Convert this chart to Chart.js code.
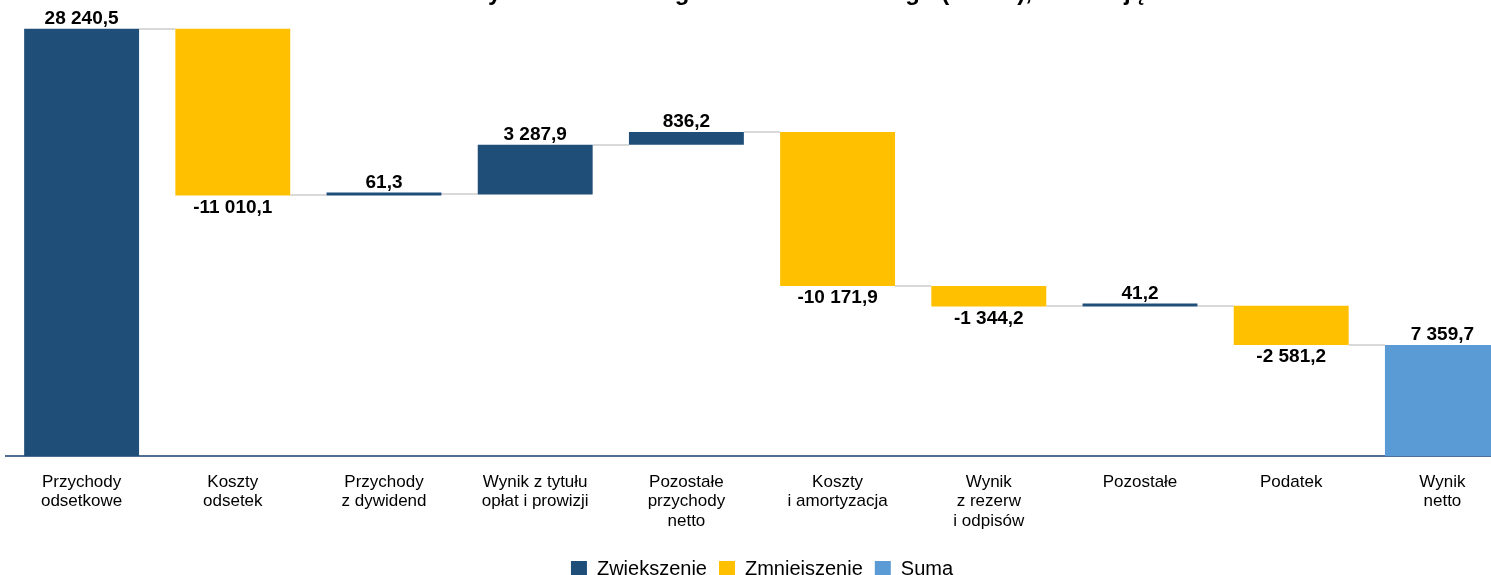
<!DOCTYPE html>
<html><head><meta charset="utf-8">
<script src="https://cdn.jsdelivr.net/npm/chart.js@4.4.0/dist/chart.umd.min.js"></script>
<style>
html,body{margin:0;padding:0;background:#fff;overflow:hidden;width:1491px;height:575px;position:relative;}
#wrap{position:absolute;left:0;top:0;width:1528px;height:590px;}
#title{position:absolute;top:-19px;left:0;width:1528px;text-align:center;font:bold 24px "Liberation Sans",Arial,sans-serif;line-height:22px;color:#000;white-space:nowrap;}
</style></head><body>
<div id="wrap"><canvas id="c" width="1528" height="590"></canvas></div>
<div id="title">Struktura wyniku finansowego sektora bankowego (mln zł), narastająco</div>
<script>
const categories = [
  ["Przychody","odsetkowe"],
  ["Koszty","odsetek"],
  ["Przychody","z dywidend"],
  ["Wynik z tytułu","opłat i prowizji"],
  ["Pozostałe","przychody","netto"],
  ["Koszty","i amortyzacja"],
  ["Wynik","z rezerw","i odpisów"],
  ["Pozostałe"],
  ["Podatek"],
  ["Wynik","netto"]
];
const values = [28240.5, -11010.1, 61.3, 3287.9, 836.2, -10171.9, -1344.2, 41.2, -2581.2, 7359.7];
const isTotal = [false, false, false, false, false, false, false, false, false, true];
const seriesNames = ["Zwiększenie", "Zmniejszenie", "Suma"];
const seriesColors = ["#1F4E79", "#FFC000", "#5B9BD5"];

// Build floating ranges
const ranges = [];
const levels = [];
let run = 0;
values.forEach((v, i) => {
  if (isTotal[i]) { ranges.push([0, v]); run = v; }
  else { ranges.push([run, run + v]); run = run + v; }
  levels.push(run);
});
const incData = ranges.map((r, i) => (!isTotal[i] && values[i] >= 0) ? r : null);
const decData = ranges.map((r, i) => (!isTotal[i] && values[i] < 0) ? r : null);
const sumData = ranges.map((r, i) => isTotal[i] ? r : null);

function fmt(v) {
  const p = Math.abs(v).toFixed(1).split('.');
  const int = p[0].replace(/\B(?=(\d{3})+(?!\d))/g, ' ');
  return (v < 0 ? '-' : '') + int + ',' + p[1];
}

const FONT = '"Liberation Sans", Arial, sans-serif';

const connectors = {
  id: 'connectors',
  beforeDatasetsDraw(chart) {
    const ctx = chart.ctx;
    const y = chart.scales.y;
    const els = [];
    chart.data.datasets.forEach((ds, di) => {
      const meta = chart.getDatasetMeta(di);
      meta.data.forEach((el, i) => { if (ds.data[i] !== null) els[i] = el; });
    });
    ctx.save();
    ctx.strokeStyle = '#D9D9D9';
    ctx.lineWidth = 2;
    for (let i = 0; i < els.length - 1; i++) {
      const a = els[i], b = els[i + 1];
      if (!a || !b) continue;
      const py = Math.round(y.getPixelForValue(levels[i]));
      ctx.beginPath();
      ctx.moveTo(a.x + a.width / 2, py);
      ctx.lineTo(b.x - b.width / 2, py);
      ctx.stroke();
    }
    ctx.restore();
  }
};

const dataLabels = {
  id: 'dataLabels',
  afterDatasetsDraw(chart) {
    const ctx = chart.ctx;
    ctx.save();
    ctx.font = 'bold 19px ' + FONT;
    ctx.fillStyle = '#000';
    ctx.textAlign = 'center';
    ctx.textBaseline = 'middle';
    chart.data.datasets.forEach((ds, di) => {
      const meta = chart.getDatasetMeta(di);
      meta.data.forEach((el, i) => {
        if (ds.data[i] === null) return;
        const top = Math.min(el.y, el.base);
        const bot = Math.max(el.y, el.base);
        const v = values[i];
        if (v >= 0) ctx.fillText(fmt(v), el.x, top - 10);
        else ctx.fillText(fmt(v), el.x, bot + 12);
      });
    });
    ctx.restore();
  }
};

new Chart(document.getElementById('c'), {
  type: 'bar',
  data: {
    labels: categories,
    datasets: [
      { label: seriesNames[0], data: incData, backgroundColor: seriesColors[0], grouped: false, minBarLength: 3 },
      { label: seriesNames[1], data: decData, backgroundColor: seriesColors[1], grouped: false },
      { label: seriesNames[2], data: sumData, backgroundColor: seriesColors[2], grouped: false }
    ]
  },
  options: {
    responsive: false,
    animation: false,
    devicePixelRatio: 1,
    categoryPercentage: 1,
    barPercentage: 0.76,
    layout: { padding: { top: 2, left: 6, right: 10, bottom: 1 } },
    plugins: {
      legend: {
        position: 'bottom',
        labels: { boxWidth: 16, boxHeight: 16, color: '#000', font: { size: 20, family: FONT }, padding: 12 }
      },
      tooltip: { enabled: false },
      title: { display: false }
    },
    scales: {
      x: {
        grid: { display: false, drawTicks: false },
        border: { color: '#4F6E92', width: 2 },
        ticks: { color: '#000', font: { size: 17, family: FONT, lineHeight: 1.15 }, padding: 16, maxRotation: 0, autoSkip: false }
      },
      y: { display: false, min: 0, max: 30000 }
    }
  },
  plugins: [connectors, dataLabels]
});
</script>
</body></html>
